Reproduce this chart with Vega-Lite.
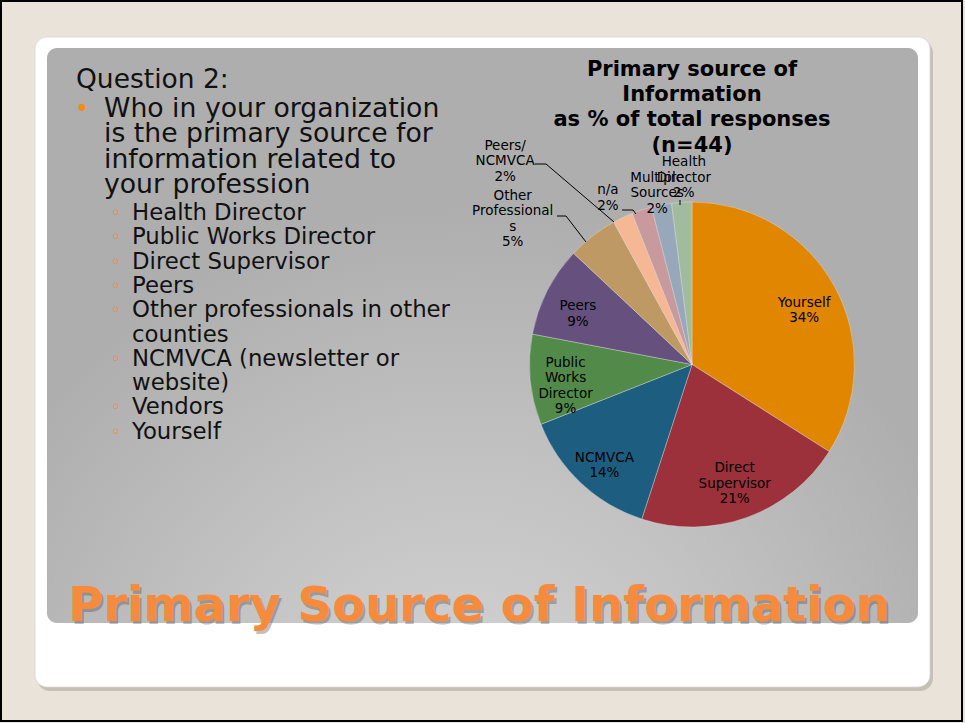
{
  "$schema": "https://vega.github.io/schema/vega-lite/v6.json",
  "width": 965,
  "height": 723,
  "autosize": {"type": "fit", "contains": "padding"},
  "padding": 0,
  "background": "#e9e3da",
  "config": {"view": {"stroke": null}, "axis": {"disable": true}, "text": {"font": "DejaVu Sans", "lineBreak": "\n"}},
  "datasets": {
    "pie": [
      {"o": 1, "source": "Yourself", "pct": 34, "label": "Yourself\n34%"},
      {"o": 2, "source": "Direct Supervisor", "pct": 21, "label": "Direct\nSupervisor\n21%"},
      {"o": 3, "source": "NCMVCA", "pct": 14, "label": "NCMVCA\n14%"},
      {"o": 4, "source": "Public Works Director", "pct": 9, "label": "Public\nWorks\nDirector\n9%"},
      {"o": 5, "source": "Peers", "pct": 9, "label": "Peers\n9%"},
      {"o": 6, "source": "Other Professionals", "pct": 5, "label": "Other\nProfessional\ns\n5%"},
      {"o": 7, "source": "Peers/NCMVCA", "pct": 2, "label": "Peers/\nNCMVCA\n2%"},
      {"o": 8, "source": "n/a", "pct": 2, "label": "n/a\n2%"},
      {"o": 9, "source": "Multiple Sources", "pct": 2, "label": "Multiple\nSources\n2%"},
      {"o": 10, "source": "Health Director", "pct": 2, "label": "Health\nDirector\n2%"}
    ]
  },
  "layer": [
    {
      "data": {"values": [{}]},
      "mark": {"type": "rect", "fill": "#aaa39a", "opacity": 0.55, "cornerRadius": 13},
      "encoding": {
        "x": {"datum": 37, "type": "quantitative", "scale": {"domain": [0, 965], "nice": false}, "axis": null},
        "x2": {"datum": 933},
        "y": {"datum": 40, "type": "quantitative", "scale": {"domain": [0, 723], "nice": false, "reverse": true}, "axis": null},
        "y2": {"datum": 691}
      }
    },
    {
      "data": {"values": [{}]},
      "mark": {"type": "rect", "fill": "#ffffff", "stroke": "#d6d6d6", "strokeWidth": 0.8, "cornerRadius": 12},
      "encoding": {
        "x": {"datum": 35, "type": "quantitative", "scale": {"domain": [0, 965], "nice": false}, "axis": null},
        "x2": {"datum": 930},
        "y": {"datum": 37, "type": "quantitative", "scale": {"domain": [0, 723], "nice": false, "reverse": true}, "axis": null},
        "y2": {"datum": 687}
      }
    },
    {
      "data": {"values": [{}]},
      "mark": {
        "type": "rect",
        "cornerRadius": 10,
        "fill": {
          "gradient": "radial",
          "x1": 0.48, "y1": 0.97, "r1": 0,
          "x2": 0.48, "y2": 0.97, "r2": 0.62,
          "stops": [
            {"offset": 0, "color": "#d6d6d6"},
            {"offset": 0.5, "color": "#c3c3c3"},
            {"offset": 1, "color": "#aeaeae"}
          ]
        }
      },
      "encoding": {
        "x": {"datum": 47, "type": "quantitative", "scale": {"domain": [0, 965], "nice": false}, "axis": null},
        "x2": {"datum": 918},
        "y": {"datum": 48, "type": "quantitative", "scale": {"domain": [0, 723], "nice": false, "reverse": true}, "axis": null},
        "y2": {"datum": 623}
      }
    },
    {
      "data": {"values": [{"t": "Question 2:"}]},
      "mark": {"type": "text", "fontSize": 26.5, "align": "left", "baseline": "alphabetic", "color": "#111111"},
      "encoding": {
        "text": {"field": "t"},
        "x": {"datum": 76, "type": "quantitative", "scale": {"domain": [0, 965], "nice": false}, "axis": null},
        "y": {"datum": 88, "type": "quantitative", "scale": {"domain": [0, 723], "nice": false, "reverse": true}, "axis": null}
      }
    },
    {
      "data": {"values": [{"t": "•"}]},
      "mark": {"type": "text", "fontSize": 24, "align": "center", "baseline": "middle", "color": "#f28c1c"},
      "encoding": {
        "text": {"field": "t"},
        "x": {"datum": 82, "type": "quantitative", "scale": {"domain": [0, 965], "nice": false}, "axis": null},
        "y": {"datum": 110, "type": "quantitative", "scale": {"domain": [0, 723], "nice": false, "reverse": true}, "axis": null}
      }
    },
    {
      "data": {"values": [{"t": "Who in your organization\nis the primary source for\ninformation related to\nyour profession"}]},
      "mark": {"type": "text", "fontSize": 26.7, "lineHeight": 25.3, "align": "left", "baseline": "alphabetic", "color": "#111111"},
      "encoding": {
        "text": {"field": "t"},
        "x": {"datum": 104, "type": "quantitative", "scale": {"domain": [0, 965], "nice": false}, "axis": null},
        "y": {"datum": 117, "type": "quantitative", "scale": {"domain": [0, 723], "nice": false, "reverse": true}, "axis": null}
      }
    },
    {
      "data": {"values": [{"t": "◦\n◦\n◦\n◦\n◦"}]},
      "mark": {"type": "text", "fontSize": 18, "lineHeight": 24.3, "align": "center", "baseline": "alphabetic", "color": "#f28c1c"},
      "encoding": {
        "text": {"field": "t"},
        "x": {"datum": 116, "type": "quantitative", "scale": {"domain": [0, 965], "nice": false}, "axis": null},
        "y": {"datum": 219, "type": "quantitative", "scale": {"domain": [0, 723], "nice": false, "reverse": true}, "axis": null}
      }
    },
    {
      "data": {"values": [{"t": "◦"}]},
      "mark": {"type": "text", "fontSize": 18, "align": "center", "baseline": "alphabetic", "color": "#f28c1c"},
      "encoding": {
        "text": {"field": "t"},
        "x": {"datum": 116, "type": "quantitative", "scale": {"domain": [0, 965], "nice": false}, "axis": null},
        "y": {"datum": 364.8, "type": "quantitative", "scale": {"domain": [0, 723], "nice": false, "reverse": true}, "axis": null}
      }
    },
    {
      "data": {"values": [{"t": "◦\n◦"}]},
      "mark": {"type": "text", "fontSize": 18, "lineHeight": 24.3, "align": "center", "baseline": "alphabetic", "color": "#f28c1c"},
      "encoding": {
        "text": {"field": "t"},
        "x": {"datum": 116, "type": "quantitative", "scale": {"domain": [0, 965], "nice": false}, "axis": null},
        "y": {"datum": 413.4, "type": "quantitative", "scale": {"domain": [0, 723], "nice": false, "reverse": true}, "axis": null}
      }
    },
    {
      "data": {"values": [{"t": "Health Director\nPublic Works Director\nDirect Supervisor\nPeers\nOther professionals in other\ncounties\nNCMVCA (newsletter or\nwebsite)\nVendors\nYourself"}]},
      "mark": {"type": "text", "fontSize": 22.8, "lineHeight": 24.3, "align": "left", "baseline": "alphabetic", "color": "#111111"},
      "encoding": {
        "text": {"field": "t"},
        "x": {"datum": 132, "type": "quantitative", "scale": {"domain": [0, 965], "nice": false}, "axis": null},
        "y": {"datum": 220, "type": "quantitative", "scale": {"domain": [0, 723], "nice": false, "reverse": true}, "axis": null}
      }
    },
    {
      "data": {"values": [{"t": "Primary source of\nInformation\nas % of total responses\n(n=44)"}]},
      "mark": {"type": "text", "fontSize": 21, "fontWeight": "bold", "lineHeight": 25.2, "align": "center", "baseline": "alphabetic", "color": "#000000"},
      "encoding": {
        "text": {"field": "t"},
        "x": {"datum": 692, "type": "quantitative", "scale": {"domain": [0, 965], "nice": false}, "axis": null},
        "y": {"datum": 76, "type": "quantitative", "scale": {"domain": [0, 723], "nice": false, "reverse": true}, "axis": null}
      }
    },
    {
      "data": {"name": "pie"},
      "mark": {"type": "arc", "radius": 162.5, "stroke": "#e8e8e8", "strokeWidth": 0.6, "strokeOpacity": 0.6},
      "encoding": {
        "theta": {"field": "pct", "type": "quantitative", "stack": true},
        "order": {"field": "o", "type": "quantitative"},
        "color": {
          "field": "source", "type": "nominal", "legend": null,
          "scale": {
            "domain": ["Yourself", "Direct Supervisor", "NCMVCA", "Public Works Director", "Peers", "Other Professionals", "Peers/NCMVCA", "n/a", "Multiple Sources", "Health Director"],
            "range": ["#e08600", "#9c303b", "#1d5e80", "#528a4a", "#66517e", "#bf9963", "#f5b794", "#c8999d", "#97a8ba", "#a1bb9f"]
          }
        },
        "x": {"datum": 692, "type": "quantitative", "scale": {"domain": [0, 965], "nice": false}, "axis": null},
        "y": {"datum": 364.5, "type": "quantitative", "scale": {"domain": [0, 723], "nice": false, "reverse": true}, "axis": null}
      }
    },
    {
      "data": {"name": "pie"},
      "mark": {"type": "text", "radius": 128, "dy": 0, "fontSize": 13.5, "lineHeight": 15.5, "align": "center", "baseline": "middle", "color": "#000000"},
      "encoding": {
        "theta": {"field": "pct", "type": "quantitative", "stack": true},
        "order": {"field": "o", "type": "quantitative"},
        "detail": {"field": "source", "type": "nominal"},
        "text": {"condition": {"test": "datum.o == 1 || datum.o == 3 || datum.o == 5", "field": "label"}, "value": ""},
        "x": {"datum": 692, "type": "quantitative", "scale": {"domain": [0, 965], "nice": false}, "axis": null},
        "y": {"datum": 364.5, "type": "quantitative", "scale": {"domain": [0, 723], "nice": false, "reverse": true}, "axis": null}
      }
    },
    {
      "data": {"name": "pie"},
      "mark": {"type": "text", "radius": 126, "dy": -15, "fontSize": 13.5, "lineHeight": 15.5, "align": "center", "baseline": "middle", "color": "#000000"},
      "encoding": {
        "theta": {"field": "pct", "type": "quantitative", "stack": true},
        "order": {"field": "o", "type": "quantitative"},
        "detail": {"field": "source", "type": "nominal"},
        "text": {"condition": {"test": "datum.o == 2", "field": "label"}, "value": ""},
        "x": {"datum": 692, "type": "quantitative", "scale": {"domain": [0, 965], "nice": false}, "axis": null},
        "y": {"datum": 364.5, "type": "quantitative", "scale": {"domain": [0, 723], "nice": false, "reverse": true}, "axis": null}
      }
    },
    {
      "data": {"name": "pie"},
      "mark": {"type": "text", "radius": 127, "dy": -13.75, "fontSize": 13.5, "lineHeight": 15.5, "align": "center", "baseline": "middle", "color": "#000000"},
      "encoding": {
        "theta": {"field": "pct", "type": "quantitative", "stack": true},
        "order": {"field": "o", "type": "quantitative"},
        "detail": {"field": "source", "type": "nominal"},
        "text": {"condition": {"test": "datum.o == 4", "field": "label"}, "value": ""},
        "x": {"datum": 692, "type": "quantitative", "scale": {"domain": [0, 965], "nice": false}, "axis": null},
        "y": {"datum": 364.5, "type": "quantitative", "scale": {"domain": [0, 723], "nice": false, "reverse": true}, "axis": null}
      }
    },
    {
      "data": {"name": "pie"},
      "mark": {"type": "text", "radius": 231, "thetaOffset": -0.229, "dy": -23.25, "fontSize": 13.5, "lineHeight": 15.5, "align": "center", "baseline": "middle", "color": "#000000"},
      "encoding": {
        "theta": {"field": "pct", "type": "quantitative", "stack": true},
        "order": {"field": "o", "type": "quantitative"},
        "detail": {"field": "source", "type": "nominal"},
        "text": {"condition": {"test": "datum.o == 6", "field": "label"}, "value": ""},
        "x": {"datum": 692, "type": "quantitative", "scale": {"domain": [0, 965], "nice": false}, "axis": null},
        "y": {"datum": 364.5, "type": "quantitative", "scale": {"domain": [0, 723], "nice": false, "reverse": true}, "axis": null}
      }
    },
    {
      "data": {"name": "pie"},
      "mark": {"type": "text", "radius": 276, "thetaOffset": -0.304, "dy": -15.5, "fontSize": 13.5, "lineHeight": 15.5, "align": "center", "baseline": "middle", "color": "#000000"},
      "encoding": {
        "theta": {"field": "pct", "type": "quantitative", "stack": true},
        "order": {"field": "o", "type": "quantitative"},
        "detail": {"field": "source", "type": "nominal"},
        "text": {"condition": {"test": "datum.o == 7", "field": "label"}, "value": ""},
        "x": {"datum": 692, "type": "quantitative", "scale": {"domain": [0, 965], "nice": false}, "axis": null},
        "y": {"datum": 364.5, "type": "quantitative", "scale": {"domain": [0, 723], "nice": false, "reverse": true}, "axis": null}
      }
    },
    {
      "data": {"name": "pie"},
      "mark": {"type": "text", "radius": 186.5, "thetaOffset": -0.154, "dy": -7.75, "fontSize": 13.5, "lineHeight": 15.5, "align": "center", "baseline": "middle", "color": "#000000"},
      "encoding": {
        "theta": {"field": "pct", "type": "quantitative", "stack": true},
        "order": {"field": "o", "type": "quantitative"},
        "detail": {"field": "source", "type": "nominal"},
        "text": {"condition": {"test": "datum.o == 8", "field": "label"}, "value": ""},
        "x": {"datum": 692, "type": "quantitative", "scale": {"domain": [0, 965], "nice": false}, "axis": null},
        "y": {"datum": 364.5, "type": "quantitative", "scale": {"domain": [0, 723], "nice": false, "reverse": true}, "axis": null}
      }
    },
    {
      "data": {"name": "pie"},
      "mark": {"type": "text", "radius": 175, "thetaOffset": -0.012, "dy": -15.5, "fontSize": 13.5, "lineHeight": 15.5, "align": "center", "baseline": "middle", "color": "#000000"},
      "encoding": {
        "theta": {"field": "pct", "type": "quantitative", "stack": true},
        "order": {"field": "o", "type": "quantitative"},
        "detail": {"field": "source", "type": "nominal"},
        "text": {"condition": {"test": "datum.o == 9", "field": "label"}, "value": ""},
        "x": {"datum": 692, "type": "quantitative", "scale": {"domain": [0, 965], "nice": false}, "axis": null},
        "y": {"datum": 364.5, "type": "quantitative", "scale": {"domain": [0, 723], "nice": false, "reverse": true}, "axis": null}
      }
    },
    {
      "data": {"name": "pie"},
      "mark": {"type": "text", "radius": 186.7, "thetaOffset": 0.019, "dy": -15.5, "fontSize": 13.5, "lineHeight": 15.5, "align": "center", "baseline": "middle", "color": "#000000"},
      "encoding": {
        "theta": {"field": "pct", "type": "quantitative", "stack": true},
        "order": {"field": "o", "type": "quantitative"},
        "detail": {"field": "source", "type": "nominal"},
        "text": {"condition": {"test": "datum.o == 10", "field": "label"}, "value": ""},
        "x": {"datum": 692, "type": "quantitative", "scale": {"domain": [0, 965], "nice": false}, "axis": null},
        "y": {"datum": 364.5, "type": "quantitative", "scale": {"domain": [0, 723], "nice": false, "reverse": true}, "axis": null}
      }
    },
    {
      "data": {"values": [{}]},
      "mark": {"type": "rule", "color": "#000000", "strokeWidth": 1},
      "encoding": {
        "x": {"datum": 535, "type": "quantitative", "scale": {"domain": [0, 965], "nice": false}, "axis": null},
        "x2": {"datum": 546},
        "y": {"datum": 164, "type": "quantitative", "scale": {"domain": [0, 723], "nice": false, "reverse": true}, "axis": null},
        "y2": {"datum": 164}
      }
    },
    {
      "data": {"values": [{}]},
      "mark": {"type": "rule", "color": "#000000", "strokeWidth": 1},
      "encoding": {
        "x": {"datum": 546, "type": "quantitative", "scale": {"domain": [0, 965], "nice": false}, "axis": null},
        "x2": {"datum": 614},
        "y": {"datum": 164, "type": "quantitative", "scale": {"domain": [0, 723], "nice": false, "reverse": true}, "axis": null},
        "y2": {"datum": 222}
      }
    },
    {
      "data": {"values": [{}]},
      "mark": {"type": "rule", "color": "#000000", "strokeWidth": 1},
      "encoding": {
        "x": {"datum": 557, "type": "quantitative", "scale": {"domain": [0, 965], "nice": false}, "axis": null},
        "x2": {"datum": 566},
        "y": {"datum": 216, "type": "quantitative", "scale": {"domain": [0, 723], "nice": false, "reverse": true}, "axis": null},
        "y2": {"datum": 216}
      }
    },
    {
      "data": {"values": [{}]},
      "mark": {"type": "rule", "color": "#000000", "strokeWidth": 1},
      "encoding": {
        "x": {"datum": 566, "type": "quantitative", "scale": {"domain": [0, 965], "nice": false}, "axis": null},
        "x2": {"datum": 586},
        "y": {"datum": 216, "type": "quantitative", "scale": {"domain": [0, 723], "nice": false, "reverse": true}, "axis": null},
        "y2": {"datum": 242}
      }
    },
    {
      "data": {"values": [{}]},
      "mark": {"type": "rule", "color": "#000000", "strokeWidth": 1},
      "encoding": {
        "x": {"datum": 622, "type": "quantitative", "scale": {"domain": [0, 965], "nice": false}, "axis": null},
        "x2": {"datum": 633},
        "y": {"datum": 210, "type": "quantitative", "scale": {"domain": [0, 723], "nice": false, "reverse": true}, "axis": null},
        "y2": {"datum": 210}
      }
    },
    {
      "data": {"values": [{}]},
      "mark": {"type": "rule", "color": "#000000", "strokeWidth": 1},
      "encoding": {
        "x": {"datum": 633, "type": "quantitative", "scale": {"domain": [0, 965], "nice": false}, "axis": null},
        "x2": {"datum": 636},
        "y": {"datum": 210, "type": "quantitative", "scale": {"domain": [0, 723], "nice": false, "reverse": true}, "axis": null},
        "y2": {"datum": 214}
      }
    },
    {
      "data": {"values": [{}]},
      "mark": {"type": "rule", "color": "#000000", "strokeWidth": 1},
      "encoding": {
        "x": {"datum": 680, "type": "quantitative", "scale": {"domain": [0, 965], "nice": false}, "axis": null},
        "x2": {"datum": 680},
        "y": {"datum": 200, "type": "quantitative", "scale": {"domain": [0, 723], "nice": false, "reverse": true}, "axis": null},
        "y2": {"datum": 205}
      }
    },
    {
      "data": {"values": [{"t": "Primary Source of Information"}]},
      "mark": {"type": "text", "fontSize": 48, "fontWeight": "bold", "align": "center", "baseline": "alphabetic", "color": "#4a4a4a", "opacity": 0.35, "dx": 2, "dy": 3},
      "encoding": {
        "text": {"field": "t"},
        "x": {"datum": 479, "type": "quantitative", "scale": {"domain": [0, 965], "nice": false}, "axis": null},
        "y": {"datum": 621, "type": "quantitative", "scale": {"domain": [0, 723], "nice": false, "reverse": true}, "axis": null}
      }
    },
    {
      "data": {"values": [{"t": "Primary Source of Information"}]},
      "mark": {"type": "text", "fontSize": 48, "fontWeight": "bold", "align": "center", "baseline": "alphabetic", "color": "#f68b3d"},
      "encoding": {
        "text": {"field": "t"},
        "x": {"datum": 479, "type": "quantitative", "scale": {"domain": [0, 965], "nice": false}, "axis": null},
        "y": {"datum": 621, "type": "quantitative", "scale": {"domain": [0, 723], "nice": false, "reverse": true}, "axis": null}
      }
    },
    {
      "data": {"values": [{}]},
      "mark": {"type": "rect", "filled": false, "stroke": "#000000", "strokeWidth": 2},
      "encoding": {
        "x": {"datum": 1, "type": "quantitative", "scale": {"domain": [0, 965], "nice": false}, "axis": null},
        "x2": {"datum": 962},
        "y": {"datum": 1, "type": "quantitative", "scale": {"domain": [0, 723], "nice": false, "reverse": true}, "axis": null},
        "y2": {"datum": 721}
      }
    }
  ]
}
